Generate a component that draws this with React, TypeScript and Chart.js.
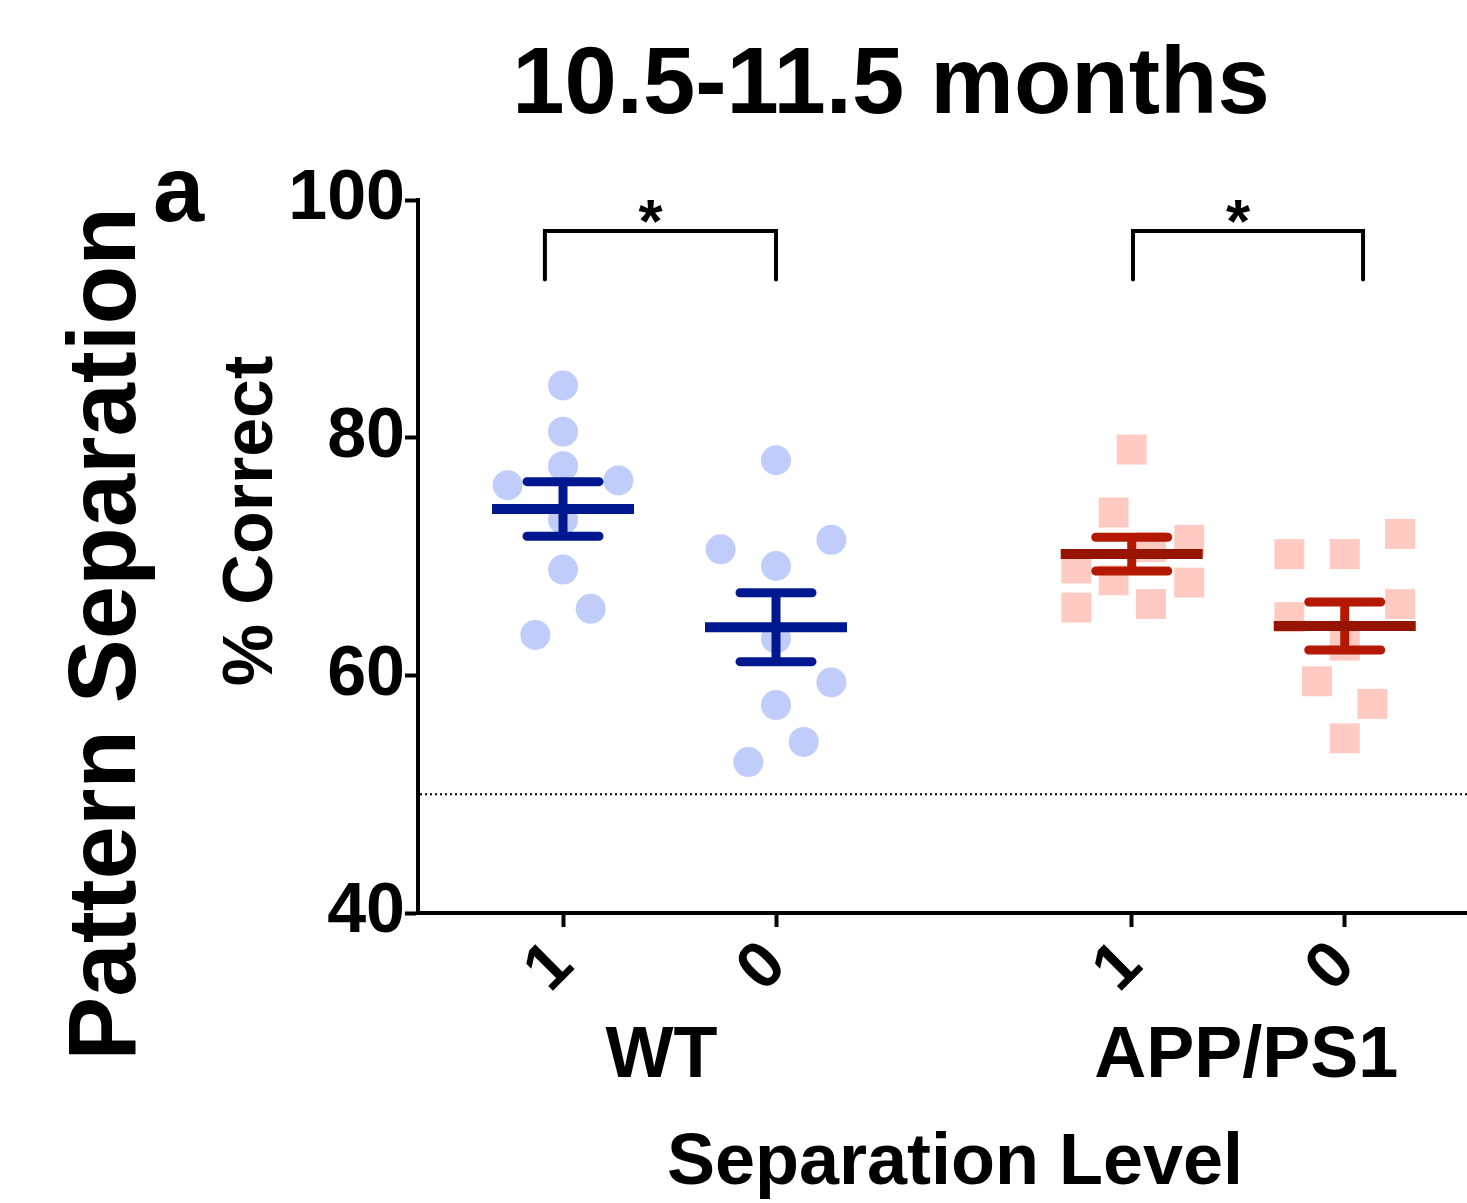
import React, { useEffect, useRef } from "react";
import { Chart, registerables } from "chart.js";

Chart.register(...registerables);

const FONT = '"Liberation Sans", Arial, Helvetica, sans-serif';

// ---- data ----
const groupNames = ["WT", "APP/PS1"];
const levelLabels = ["1", "0", "1", "0"];
const xPositions = [1, 2, 3.67, 4.67];

const wt1Values = [84.4, 80.5, 77.6, 76.0, 76.4, 73.1, 68.9, 65.6, 63.4];
const wt1Jitter = [0, 0, 0, -0.26, 0.26, 0, 0, 0.13, -0.13];
const wt0Values = [78.1, 70.6, 71.4, 69.2, 63.1, 59.4, 57.5, 54.4, 52.7];
const wt0Jitter = [0, -0.26, 0.26, 0, 0, 0.26, 0, 0.13, -0.13];
const app1Values = [79.0, 73.7, 71.4, 70.8, 69.0, 68.0, 67.8, 65.7, 66.0];
const app1Jitter = [0, -0.085, 0.27, 0.09, -0.26, -0.085, 0.27, -0.26, 0.09];
const app0Values = [71.9, 70.2, 70.2, 66.0, 64.9, 62.5, 59.5, 57.6, 54.7];
const app0Jitter = [0.26, -0.26, 0, 0.26, -0.26, 0, -0.13, 0.13, 0];

const means = [74.0, 64.05, 70.2, 64.15];
const sems = [2.3, 2.9, 1.42, 2.02];

const yTicks = [40, 60, 80, 100];
const chanceLevel = 50;

const bracketStart = [0.915, 3.676];
const bracketEnd = [2.0, 4.756];
const bracketTop = 97.4;
const bracketBottom = 93.3;
const bracketLabels = ["*", "*"];

// ---- styles ----
const BLUE_POINT = "rgb(192,205,251)";
const BLUE_BAR = "rgb(0,24,143)";
const RED_POINT = "rgb(255,202,194)";
const RED_MEAN = "rgb(150,20,0)";
const RED_BAR = "rgb(180,25,0)";
const meanColors = [BLUE_BAR, BLUE_BAR, RED_MEAN, RED_MEAN];
const capColors = [BLUE_BAR, BLUE_BAR, RED_BAR, RED_BAR];

function toPoints(pos: number, values: number[], jitter: number[]) {
  return values.map((v, i) => ({ x: pos + jitter[i], y: v }));
}

const overlayPlugin = {
  id: "overlay",
  beforeDatasetsDraw(chart: any) {
    const { ctx, chartArea, scales } = chart;
    const y = scales.y.getPixelForValue(chanceLevel);
    ctx.save();
    ctx.strokeStyle = "#000";
    ctx.lineWidth = 2;
    ctx.setLineDash([2, 3]);
    ctx.beginPath();
    ctx.moveTo(chartArea.left + 2, y);
    ctx.lineTo(chartArea.right, y);
    ctx.stroke();
    ctx.restore();
  },
  afterDatasetsDraw(chart: any) {
    const { ctx, scales } = chart;
    const xs = scales.x;
    const ys = scales.y;
    ctx.save();
    xPositions.forEach((pos, i) => {
      const cx = xs.getPixelForValue(pos);
      const ym = ys.getPixelForValue(means[i]);
      const yu = ys.getPixelForValue(means[i] + sems[i]);
      const yl = ys.getPixelForValue(means[i] - sems[i]);
      // stem
      ctx.strokeStyle = capColors[i];
      ctx.lineCap = "butt";
      ctx.lineWidth = 9;
      ctx.beginPath();
      ctx.moveTo(cx, yu);
      ctx.lineTo(cx, yl);
      ctx.stroke();
      // caps
      ctx.lineCap = "round";
      ctx.beginPath();
      ctx.moveTo(cx - 36, yu);
      ctx.lineTo(cx + 36, yu);
      ctx.moveTo(cx - 36, yl);
      ctx.lineTo(cx + 36, yl);
      ctx.stroke();
      // mean
      ctx.strokeStyle = meanColors[i];
      ctx.lineCap = "butt";
      ctx.lineWidth = 10;
      ctx.beginPath();
      ctx.moveTo(cx - 71, ym);
      ctx.lineTo(cx + 71, ym);
      ctx.stroke();
    });
    ctx.restore();
  },
  afterDraw(chart: any) {
    const { ctx, scales } = chart;
    const xs = scales.x;
    const ys = scales.y;
    ctx.save();
    ctx.fillStyle = "#000";
    ctx.strokeStyle = "#000";

    // brackets
    ctx.lineWidth = 4;
    ctx.lineCap = "round";
    ctx.lineJoin = "miter";
    bracketStart.forEach((s, i) => {
      const x1 = xs.getPixelForValue(s);
      const x2 = xs.getPixelForValue(bracketEnd[i]);
      const yt = ys.getPixelForValue(bracketTop);
      const yb = ys.getPixelForValue(bracketBottom);
      ctx.beginPath();
      ctx.moveTo(x1, yb);
      ctx.lineTo(x1, yt);
      ctx.lineTo(x2, yt);
      ctx.lineTo(x2, yb);
      ctx.stroke();
      ctx.font = `bold 62px ${FONT}`;
      ctx.textAlign = "center";
      ctx.textBaseline = "alphabetic";
      ctx.fillText(bracketLabels[i], (x1 + x2) / 2 - 10, yt + 11);
    });

    // title
    ctx.textAlign = "center";
    ctx.textBaseline = "alphabetic";
    ctx.font = `bold 94px ${FONT}`;
    ctx.fillText("10.5-11.5 months", 891, 113);

    // panel letter
    ctx.textAlign = "left";
    ctx.font = `bold 92px ${FONT}`;
    ctx.fillText("a", 153, 221);

    // row title (vertical)
    ctx.save();
    ctx.translate(135, 634);
    ctx.rotate(-Math.PI / 2);
    ctx.textAlign = "center";
    ctx.font = `bold 96px ${FONT}`;
    ctx.fillText("Pattern Separation", 0, 0);
    ctx.restore();

    // y axis title
    ctx.save();
    ctx.translate(272, 521);
    ctx.rotate(-Math.PI / 2);
    ctx.textAlign = "center";
    ctx.font = `bold 70px ${FONT}`;
    ctx.fillText("% Correct", 0, 0);
    ctx.restore();

    // group labels
    ctx.textAlign = "center";
    ctx.font = `bold 72px ${FONT}`;
    groupNames.forEach((g, gi) => {
      const a = xs.getPixelForValue(xPositions[gi * 2]);
      const b = xs.getPixelForValue(xPositions[gi * 2 + 1]);
      ctx.fillText(g, (a + b) / 2 + (gi === 0 ? -8 : 8), 1077);
    });

    // x axis title
    ctx.font = `bold 72px ${FONT}`;
    ctx.fillText("Separation Level", 955, 1184);

    ctx.restore();
  },
};

export default function App() {
  const canvasRef = useRef<HTMLCanvasElement | null>(null);

  useEffect(() => {
    const canvas = canvasRef.current;
    if (!canvas) return;
    const pointCommon = { borderWidth: 0, showLine: false };
    const chart = new Chart(canvas, {
      type: "scatter",
      data: {
        datasets: [
          {
            label: "WT 1",
            data: toPoints(xPositions[0], wt1Values, wt1Jitter),
            backgroundColor: BLUE_POINT,
            pointStyle: "circle",
            pointRadius: 15,
            ...pointCommon,
          },
          {
            label: "WT 0",
            data: toPoints(xPositions[1], wt0Values, wt0Jitter),
            backgroundColor: BLUE_POINT,
            pointStyle: "circle",
            pointRadius: 15,
            ...pointCommon,
          },
          {
            label: "APP/PS1 1",
            data: toPoints(xPositions[2], app1Values, app1Jitter),
            backgroundColor: RED_POINT,
            pointStyle: "rect",
            pointRadius: 21.2,
            ...pointCommon,
          },
          {
            label: "APP/PS1 0",
            data: toPoints(xPositions[3], app0Values, app0Jitter),
            backgroundColor: RED_POINT,
            pointStyle: "rect",
            pointRadius: 21.2,
            ...pointCommon,
          },
        ],
      },
      options: {
        animation: false,
        responsive: false,
        maintainAspectRatio: false,
        layout: { autoPadding: false, padding: { top: 200, left: 0, right: 0, bottom: 0 } },
        plugins: {
          legend: { display: false },
          tooltip: { enabled: false },
          title: { display: false },
        },
        scales: {
          x: {
            type: "linear",
            min: 0.3192,
            max: 5.244,
            afterFit: (s: any) => {
              s.height = 290;
              s.paddingLeft = 0;
              s.paddingRight = 0;
            },
            afterBuildTicks: (s: any) => {
              s.ticks = xPositions.map((v) => ({ value: v }));
            },
            grid: {
              drawOnChartArea: false,
              drawTicks: true,
              tickLength: 14,
              tickWidth: 4,
              color: "#000",
            },
            border: { display: true, width: 4, color: "#000" },
            ticks: {
              autoSkip: false,
              minRotation: 45,
              maxRotation: 45,
              padding: 0,
              color: "#000",
              font: { family: FONT, size: 66, weight: "bold" },
              callback: (v: any) => {
                const idx = xPositions.findIndex((p) => Math.abs(p - Number(v)) < 1e-6);
                return idx >= 0 ? levelLabels[idx] : "";
              },
            },
          },
          y: {
            type: "linear",
            min: yTicks[0],
            max: yTicks[yTicks.length - 1],
            afterFit: (s: any) => {
              s.width = 418;
              s.paddingTop = 0;
              s.paddingBottom = 0;
            },
            afterBuildTicks: (s: any) => {
              s.ticks = yTicks.map((v) => ({ value: v }));
            },
            grid: {
              drawOnChartArea: false,
              drawTicks: true,
              tickLength: 13,
              tickWidth: 4,
              color: "#000",
            },
            border: { display: true, width: 4, color: "#000" },
            ticks: {
              padding: 0,
              color: "#000",
              font: { family: FONT, size: 70, weight: "bold" },
            },
          },
        },
      },
      plugins: [overlayPlugin],
    } as any);
    return () => chart.destroy();
  }, []);

  return (
    <div style={{ position: "absolute", left: 0, top: 0, width: 1467, height: 1203, background: "#fff" }}>
      <canvas ref={canvasRef} width={1467} height={1203} style={{ display: "block" }} />
    </div>
  );
}
